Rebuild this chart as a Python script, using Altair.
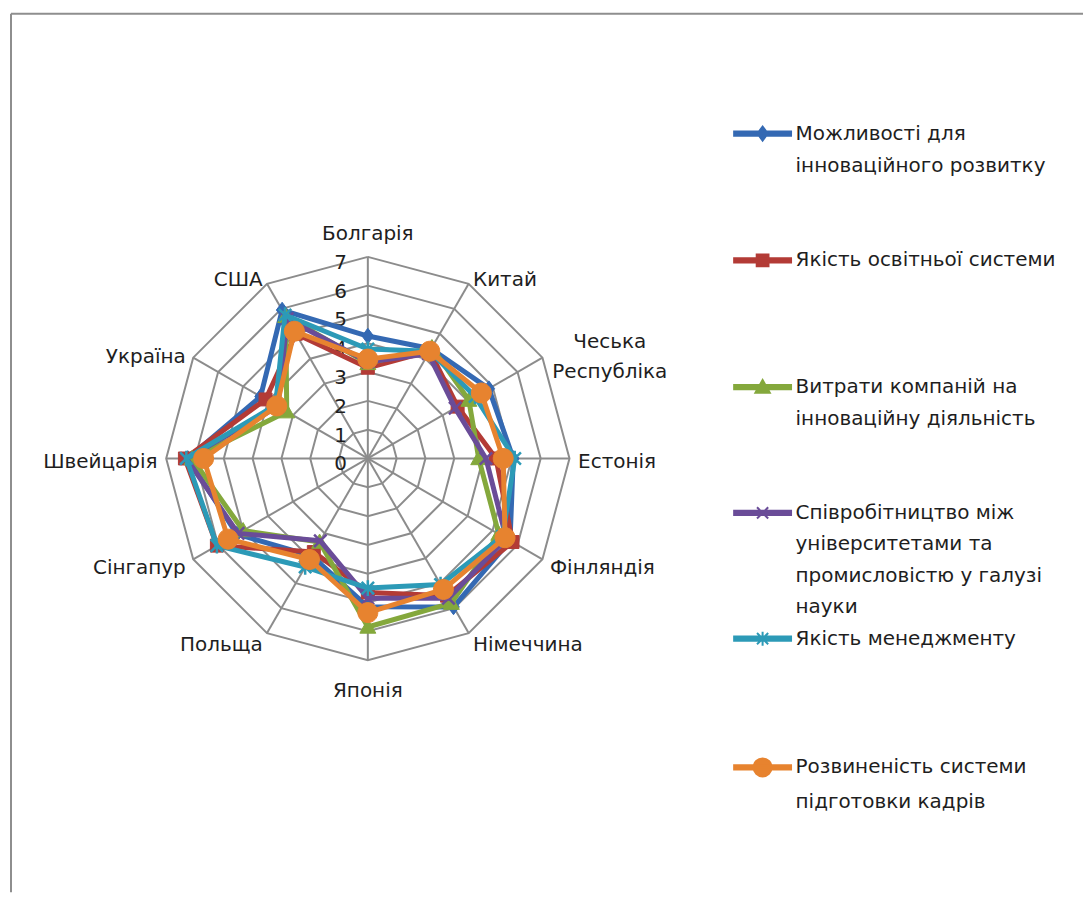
import json
import altair as alt
import pandas as pd

# ---------------- data ----------------
categories = ["Болгарія", "Китай", "Чеська Республіка", "Естонія", "Фінляндія",
              "Німеччина", "Японія", "Польща", "Сінгапур", "Швейцарія",
              "Україна", "США"]

series_names = [
    "Можливості для інноваційного розвитку",
    "Якість освітньої системи",
    "Витрати компаній на інноваційну діяльність",
    "Співробітництво між університетами та промисловістю у галузі науки",
    "Якість менеджменту",
    "Розвиненість системи підготовки кадрів",
]

innovation_capacity = [4.25, 4.4, 4.85, 5.05, 5.7, 5.95, 5.15, 3.9, 5.25, 6.25, 4.3, 5.95]
education_quality = [3.15, 4.3, 3.6, 4.45, 5.8, 5.5, 4.65, 3.75, 6.05, 6.35, 4.1, 5.0]
company_spending = [3.3, 4.45, 4.05, 3.85, 5.25, 5.8, 5.85, 3.35, 5.0, 6.1, 3.25, 5.7]
university_industry = [3.35, 4.2, 3.5, 4.1, 5.55, 5.6, 4.85, 3.3, 5.2, 6.3, 3.6, 5.6]
management_quality = [3.8, 4.3, 4.3, 5.1, 5.4, 5.05, 4.5, 4.35, 6.05, 6.3, 3.7, 5.75]
staff_training = [3.45, 4.3, 4.55, 4.7, 5.5, 5.25, 5.35, 4.05, 5.6, 5.7, 3.65, 5.1]

series_values = [innovation_capacity, education_quality, company_spending,
                 university_industry, management_quality, staff_training]

levels = [1, 2, 3, 4, 5, 6, 7]
tick_values = [0, 1, 2, 3, 4, 5, 6, 7]

legend_lines = [
    ["Можливості для", "інноваційного розвитку"],
    ["Якість освітньої системи"],
    ["Витрати компаній на", "інноваційну діяльність"],
    ["Співробітництво між", "університетами та", "промисловістю у галузі", "науки"],
    ["Якість менеджменту"],
    ["Розвиненість системи", "підготовки кадрів"],
]

# ---------------- styles ----------------
colors = ["#3469B3", "#B33B36", "#84A83C", "#6A4C98", "#2C9AB7", "#E7832F"]
grid_color = "#8C8C8C"
frame_color = "#8E8E8E"
text_color = "#1E1E1E"
FONT = "DejaVu Sans"
FS = 20
CAT_LH = 30
CHAR_W = 0.6       # approx. glyph width / font size, for centring wrapped labels

def poly(pts):
    return "M" + "L".join(f"{x:.2f},{y:.2f}" for x, y in pts) + "Z"

def segs(lines):
    return "".join(f"M{a[0]:.2f},{a[1]:.2f}L{b[0]:.2f},{b[1]:.2f}" for a, b in lines)

def circle(r):
    # clockwise, same winding as the other outlines
    return f"M{-r:.2f},0A{r},{r} 0 1,1 {r:.2f},0A{r},{r} 0 1,1 {-r:.2f},0Z"

def marker_paths(s=1.0):
    return [
        poly([(0, -0.78 * s), (0.58 * s, 0), (0, 0.78 * s), (-0.58 * s, 0)]),
        poly([(-0.65 * s, -0.65 * s), (0.65 * s, -0.65 * s), (0.65 * s, 0.65 * s), (-0.65 * s, 0.65 * s)]),
        poly([(0, -0.8 * s), (0.8 * s, 0.62 * s), (-0.8 * s, 0.62 * s)]),
        segs([((-0.62 * s, -0.62 * s), (0.62 * s, 0.62 * s)), ((-0.62 * s, 0.62 * s), (0.62 * s, -0.62 * s))]),
        segs([((-0.62 * s, -0.62 * s), (0.62 * s, 0.62 * s)), ((-0.62 * s, 0.62 * s), (0.62 * s, -0.62 * s)),
              ((0, -0.78 * s), (0, 0.78 * s))]),
        circle(1.0 * s),
    ]

plot_markers = marker_paths(1.0)
marker_stroke = [1, 1, 1, 2.5, 2.5, 1]

leg_bar = poly([(-2.85, -0.22), (2.85, -0.22), (2.85, 0.22), (-2.85, 0.22)])
legend_markers = [leg_bar + m for m in marker_paths(0.9)]

# legend: one row per text line (4 rows per series), symbol only on first row
ROWS = 4
legend_keys, legend_texts, legend_colors, legend_shapes = [], [], [], []
for name, lines, col, path in zip(series_names, legend_lines, colors, legend_markers):
    for k in range(ROWS):
        legend_keys.append(name if k == 0 else f"{name} [{k}]")
        legend_texts.append(lines[k] if k < len(lines) else "\u00a0")
        legend_colors.append(col if k == 0 else "transparent")
        legend_shapes.append(path if k == 0 else "M0,0")

# ---------------- layout ----------------
K = 28.86          # px per unit
CX, CY = 357.5, 445.5
W, H = 1074, 880
xs = alt.Scale(domain=[-CX / K, (W - CX) / K], nice=False, zero=False)
ys = alt.Scale(domain=[-(H - CY) / K, CY / K], nice=False, zero=False)
X = alt.X("x:Q", scale=xs, axis=None)
Y = alt.Y("y:Q", scale=ys, axis=None)
N = len(categories)
RMAX = max(levels)

# ---------------- tables ----------------
rows = []
for name, vals in zip(series_names, series_values):
    for i in range(N + 1):
        rows.append({"series": name, "idx": i, "cat": categories[i % N], "value": vals[i % N]})
df_series = pd.DataFrame(rows)

df_grid = pd.DataFrame([{"level": lv, "idx": i} for lv in levels for i in range(N + 1)])
df_cats = pd.DataFrame({"cat": categories, "idx": list(range(N))})
df_ticks = pd.DataFrame({"tick": tick_values})
df_legend = pd.DataFrame({"series": series_names})

ang = f"datum.idx * 2 * PI / {N}"

frame_top = alt.Chart(df_ticks.head(1)).mark_rule(color=frame_color, strokeWidth=2).encode(y=alt.value(0))
frame_left = alt.Chart(df_ticks.head(1)).mark_rule(color=frame_color, strokeWidth=2).encode(x=alt.value(0))

grid = alt.Chart(df_grid).transform_calculate(
    a=ang, x="datum.level * sin(datum.a)", y="datum.level * cos(datum.a)"
).mark_line(color=grid_color, strokeWidth=2).encode(
    x=X, y=Y, detail="level:N", order="idx:Q")

spokes = alt.Chart(df_cats).transform_calculate(
    a=ang, x="0", y="0", x2=f"{RMAX} * sin(datum.a)", y2=f"{RMAX} * cos(datum.a)"
).mark_rule(color=grid_color, strokeWidth=2).encode(x=X, y=Y, x2="x2:Q", y2="y2:Q")

ticks = alt.Chart(df_ticks).transform_calculate(x="0", y="datum.tick").mark_text(
    align="right", baseline="middle", dx=-21, dy=6, fontSize=FS, font=FONT, color=text_color
).encode(x=X, y=Y, text="tick:Q")

cat_base = alt.Chart(df_cats).transform_calculate(
    a=ang, s="sin(datum.a)", c="cos(datum.a)",
    r=f"abs(sin(datum.a)) < 0.01 ? {RMAX} + 0.93 : {RMAX} + 0.3",
    lines="split(datum.cat, ' ')",
    nl="length(datum.lines)",
    half_w=f"max(length(datum.lines[0]), length(datum.lines[datum.nl - 1])) * {CHAR_W * FS / 2} / {K}",
    x="datum.r * datum.s",
    y=f"datum.r * datum.c + (datum.nl - 1) * {CAT_LH / 2} / {K}")
cat_kw = dict(baseline="middle", dy=4, fontSize=FS, font=FONT, color=text_color, lineHeight=CAT_LH)
cat_right = cat_base.transform_filter("datum.s > 0.01 && datum.nl == 1").mark_text(
    align="left", **cat_kw).encode(x=X, y=Y, text="lines:N")
cat_right_wrapped = cat_base.transform_filter("datum.s > 0.01 && datum.nl > 1").transform_calculate(
    xc="datum.x + datum.half_w").mark_text(align="center", **cat_kw).encode(
    x=alt.X("xc:Q", scale=xs, axis=None), y=Y, text="lines:N")
cat_left = cat_base.transform_filter("datum.s < -0.01").mark_text(
    align="right", **cat_kw).encode(x=X, y=Y, text="lines:N")
cat_mid = cat_base.transform_filter("abs(datum.s) <= 0.01").mark_text(
    align="center", **cat_kw).encode(x=X, y=Y, text="lines:N")

series_layers = []
for name, col, path, sw in zip(series_names, colors, plot_markers, marker_stroke):
    base = alt.Chart(df_series).transform_filter(alt.datum.series == name).transform_calculate(
        a=ang, x="datum.value * sin(datum.a)", y="datum.value * cos(datum.a)")
    line = base.mark_line(strokeWidth=5, strokeJoin="round", strokeCap="round", color=col).encode(
        x=X, y=Y, order="idx:Q")
    pts = base.transform_filter(f"datum.idx < {N}").mark_point(
        filled=True, size=400, opacity=1, fill=col, stroke=col, strokeWidth=sw, shape=path
    ).encode(x=X, y=Y)
    series_layers += [line, pts]

label_expr = " : ".join(
    f"datum.label === {json.dumps(k, ensure_ascii=False)} ? {json.dumps(t, ensure_ascii=False)}"
    for k, t in zip(legend_keys, legend_texts)) + " : datum.label"

leg = alt.Legend(
    title=None, orient="none", legendX=742, legendY=109, padding=0,
    rowPadding=10.5, labelOffset=22, symbolOffset=0, symbolSize=400, symbolLimit=100,
    symbolStrokeWidth=2, symbolOpacity=1, labelFontSize=FS, labelFont=FONT,
    labelColor=text_color, labelBaseline="middle", labelLimit=500, labelExpr=label_expr)

legend_layer = alt.Chart(df_legend).transform_filter("false").mark_point(
    filled=True, strokeWidth=2).encode(
    fill=alt.Fill("series:N", scale=alt.Scale(domain=legend_keys, range=legend_colors), legend=leg),
    stroke=alt.Stroke("series:N", scale=alt.Scale(domain=legend_keys, range=legend_colors), legend=leg),
    shape=alt.Shape("series:N", scale=alt.Scale(domain=legend_keys, range=legend_shapes), legend=leg),
)

chart = alt.layer(
    frame_top, frame_left, grid, spokes, ticks, cat_right, cat_right_wrapped, cat_left, cat_mid,
    *series_layers, legend_layer
).properties(
    width=W, height=H, padding={"left": 2, "top": 4, "right": 0, "bottom": 0}
).configure_view(strokeWidth=0)

chart.save("out.html", embed_options={"renderer": "svg", "actions": False})
